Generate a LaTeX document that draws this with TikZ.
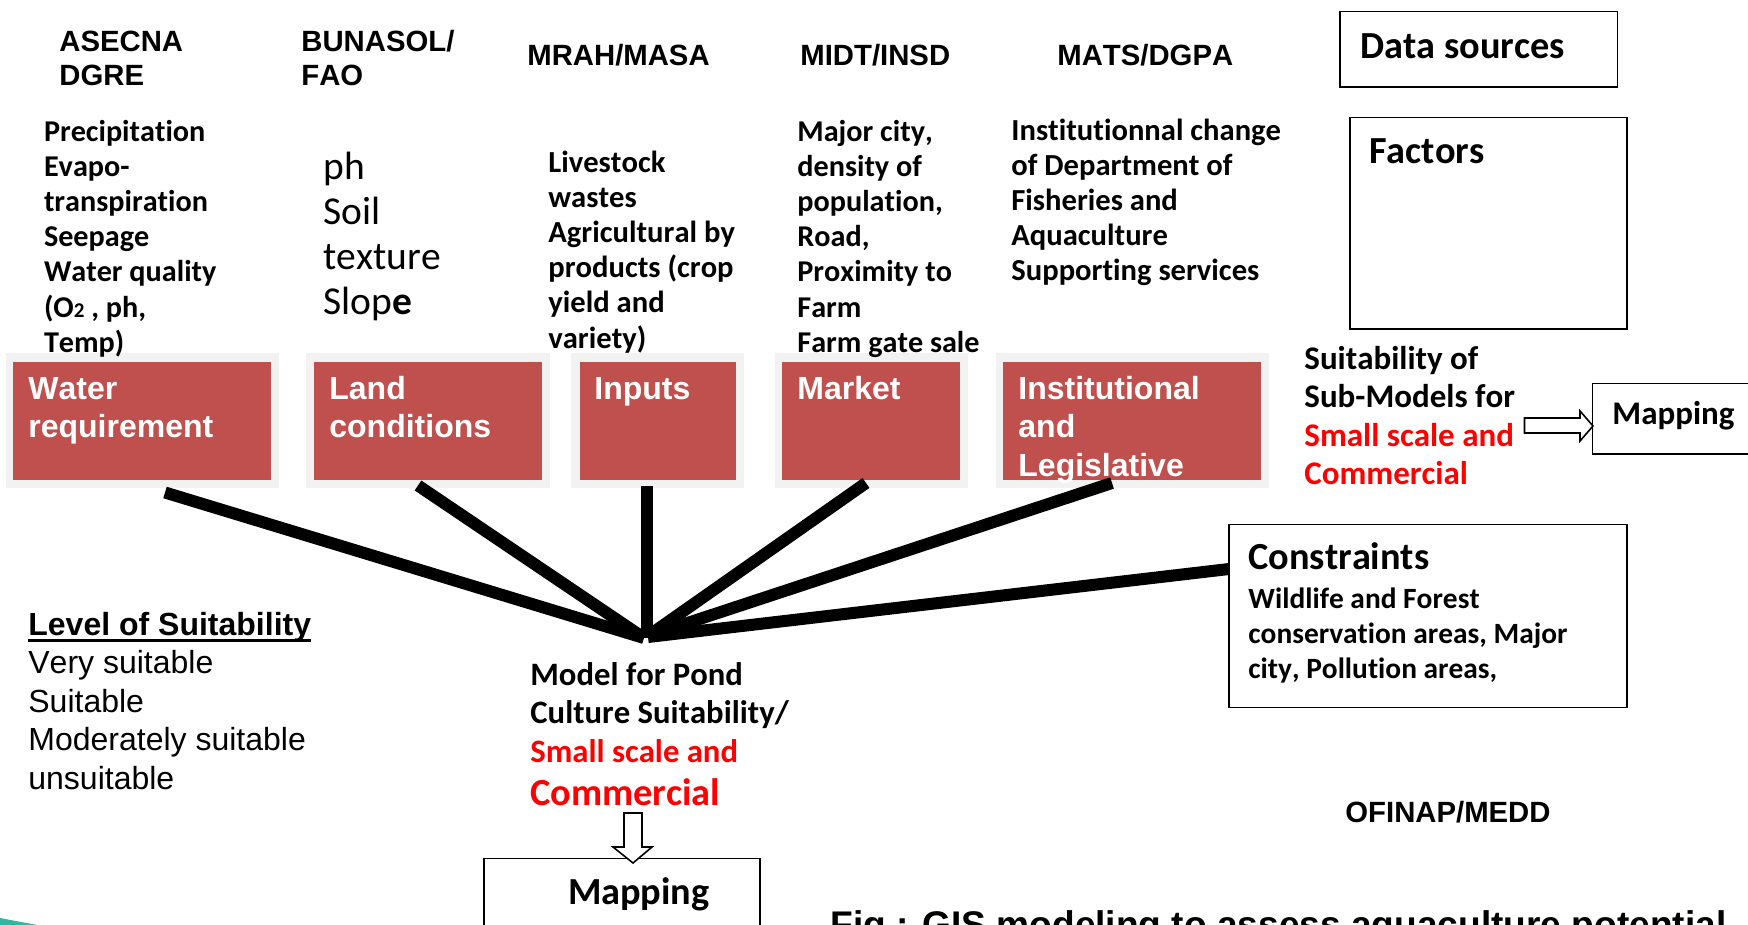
\documentclass[tikz,border=0pt]{standalone}
\usepackage{fontspec}
\setmainfont[Kerning=Off,Ligatures={NoCommon}]{Carlito}
\newfontfamily\arl[Kerning=Off,Ligatures={NoCommon}]{Liberation Sans}
\newcommand\fs[2]{\fontsize{#1}{#2}\selectfont}
\newcommand\block[1]{\vtop{\halign{##\hfil\cr #1\crcr}}}
\definecolor{brick}{HTML}{C0504D}
\definecolor{halo}{HTML}{F2F2F2}
\definecolor{teal1}{HTML}{33B5A0}
\tikzset{
  txt/.style={inner sep=0pt,outer sep=0pt,anchor=base west,text=black,xshift=-0.6pt,yshift=-1.1pt},
  head/.style={txt,font=\arl\bfseries\fs{29.3}{34}},
  body/.style={txt,font=\bfseries\fs{30.2}{35.2}},
  bodywide/.style={txt,font=\bfseries\fs{30.6}{35.2}},
  bodynarrow/.style={txt,font=\bfseries\fs{29.4}{35.2}},
  big/.style={txt,font=\bfseries\fs{38.3}{40}},
  mid/.style={txt,font=\bfseries\fs{33}{38.6}},
  boxlabel/.style={txt,text=white,font=\arl\bfseries\fs{32}{38.6}},
  plainbox/.style={draw=black,line width=1.7pt,fill=white},
  halobox/.style={fill=halo},
  redbox/.style={fill=brick},
  spoke/.style={line width=12pt,line cap=butt},
  blockarrow/.style={draw=black,line width=1.6pt,fill=white,line join=miter}
}
\begin{document}
\begin{tikzpicture}[x=1pt,y=-1pt]
\useasboundingbox (0,0) rectangle (1748,925);
\clip (0,0) rectangle (1748,925);
\fill[teal1] (0,918) -- (37,925) -- (0,925) -- cycle;

% red factor boxes
\fill[halobox] (5.6,353) rectangle (279,488);
\fill[redbox] (13.4,362) rectangle (270.5,480);
\fill[halobox] (306,353) rectangle (550,488);
\fill[redbox] (314,362) rectangle (542,480);
\fill[halobox] (571,353) rectangle (744,488);
\fill[redbox] (580,362) rectangle (736,480);
\fill[halobox] (775,353) rectangle (968,488);
\fill[redbox] (782,362) rectangle (960,480);
\fill[halobox] (995.5,353) rectangle (1269,488);
\fill[redbox] (1003,362) rectangle (1261,480);
\node[boxlabel] (b1) at (29,398) {\block{Water\cr requirement}};
\node[boxlabel] (b2) at (330,398) {\block{Land\cr conditions}};
\node[boxlabel] (b3) at (595,398) {Inputs};
\node[boxlabel] (b4) at (798,398) {Market};
\node[boxlabel] (b5) at (1019,398) {\block{Institutional\cr and\cr Legislative}};

% data sources headers
\node[head] (h1) at (60,50) {\block{ASECNA\cr DGRE}};
\node[head] (h2) at (302,50) {\block{BUNASOL/\cr FAO}};
\node[head] (h3) at (528,64) {MRAH/MASA};
\node[head] (h4) at (801,64) {MIDT/INSD};
\node[head] (h5) at (1058,64) {MATS/DGPA};

% factor lists
\node[body] (f1) at (44.6,140) {\block{Precipitation\cr Evapo-\cr transpiration\cr Seepage\cr Water quality\cr (O{\fs{21}{21}2} , ph,\cr Temp)}};
\node[txt,font=\fs{39.5}{45}] (f2) at (324,178) {\block{ph\cr Soil\cr texture\cr Slop{\bfseries e}}};
\node[bodywide] (f3) at (549,171) {\block{Livestock\cr wastes\cr Agricultural by\cr products (crop\cr yield and\cr variety)}};
\node[body] (f4) at (798,140) {\block{Major city,\cr density of\cr population,\cr Road,\cr Proximity to\cr Farm\cr Farm gate sale}};
\node[bodywide] (f5) at (1012,139) {\block{Institutionnal change\cr of Department of\cr Fisheries and\cr Aquaculture\cr Supporting services}};

% boxes at right
\draw[plainbox] (1340,11.5) rectangle (1617.5,87) coordinate (dsbox);
\node[big] (ds) at (1361,57) {Data sources};
\draw[plainbox] (1350,117.5) rectangle (1627,329) coordinate (fbox);
\node[big] (fa) at (1370,162) {Factors};
\draw[plainbox] (1592.5,383.5) rectangle (1760,454) coordinate (mbox);
\node[txt,font=\bfseries\fs{33}{38}] (m1) at (1613,423) {Mapping};
\draw[plainbox] (1229,524.5) rectangle (1627,707.5) coordinate (cbox);
\node[big] (co) at (1249,568) {Constraints};
\node[bodynarrow] (cot) at (1249,607) {\block{Wildlife and Forest\cr conservation areas, Major\cr city, Pollution areas,}};

% sub-model label and arrow
\node[mid] (sub) at (1305,368) {\block{Suitability of\cr Sub-Models for\cr \textcolor{red}{Small scale and}\cr \textcolor{red}{Commercial}}};
\coordinate (a1) at (1524.5,418);
\draw[blockarrow] (a1) -- ++(55.5,0) -- ++(0,-7) -- (1593,426) -- (1580,441) -- ++(0,-8) -- (1524.5,433) -- cycle;

% spokes
\coordinate (hub) at (644,638);
\coordinate (s1) at (165,492.5);
\coordinate (s2) at (418,485.5);
\coordinate (s3) at (647,486);
\coordinate (s4) at (866,483);
\coordinate (s5) at (1112,483);
\coordinate (s6) at (1229,569);
\draw[spoke] (s1) -- (hub);
\draw[spoke] (s2) -- (hub);
\draw[spoke] (s3) -- (647,638);
\draw[spoke] (s4) -- (648,636);
\draw[spoke] (s5) -- (648,636);
\draw[spoke] (s6) -- (648,637);

% suitability legend
\node[txt,font=\arl\fs{32}{38.5}] (lv) at (29,634) {\block{\vtop{\hbox{\bfseries Level of Suitability}\kern-3pt\hrule height 3.3pt}\cr Very suitable\cr Suitable\cr Moderately suitable\cr unsuitable}};

% model
\node[txt,font=\bfseries\fs{32.7}{38.6}] (mo) at (531,684) {\block{Model for Pond\cr Culture Suitability/\cr \textcolor{red}{Small scale and}}};
\node[big,text=red] (mc) at (531,804) {Commercial};
\draw[plainbox] (484,858.5) rectangle (760,940) coordinate (mb2);
\node[big] (m2) at (568.6,903) {Mapping};
\coordinate (a2) at (624,813);
\draw[blockarrow] (a2) -- ++(18,0) -- ++(0,34) -- (652,847) -- (633,863) -- (613,847) -- (624,847) -- cycle;

\node[txt,font=\arl\fs{29.3}{32}\bfseries] (of) at (1346,821) {OFINAP/MEDD};
\node[txt,font=\arl\bfseries\fs{37.1}{40}] (fig) at (831,936) {Fig : GIS modeling to assess aquaculture potential};
\end{tikzpicture}
\end{document}
